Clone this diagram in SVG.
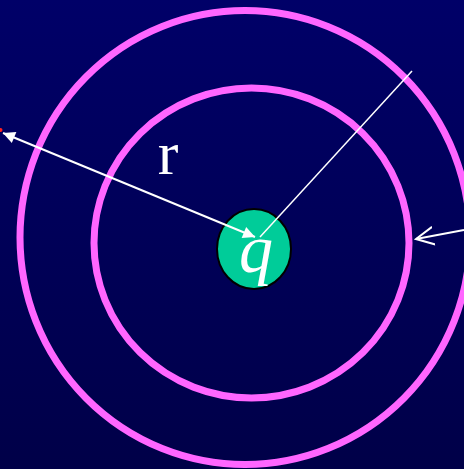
<svg xmlns="http://www.w3.org/2000/svg" width="464" height="469" viewBox="0 0 464 469">
<defs>
<linearGradient id="bg" x1="0" y1="0" x2="0" y2="1">
<stop offset="0" stop-color="#000068"/>
<stop offset="1" stop-color="#000048"/>
</linearGradient>
<marker id="solid" viewBox="0 0 10 10" refX="10" refY="5" markerWidth="16" markerHeight="12" markerUnits="userSpaceOnUse" orient="auto-start-reverse">
<path d="M0,0 L10,5 L0,10 Z" fill="#fff"/>
</marker>
<marker id="open" viewBox="0 0 10 10" refX="9" refY="5" markerWidth="20" markerHeight="20" markerUnits="userSpaceOnUse" orient="auto">
<path d="M0,0.5 L9,5 L0,9.5" fill="none" stroke="#fff" stroke-width="1"/>
</marker>
</defs>
<style>
.ring{fill:none;stroke:#FF66FF;stroke-width:7}
.wire{stroke:#fff;stroke-width:2;fill:none}
.lbl{font-family:"Liberation Serif","Times New Roman",serif;fill:#fff}
</style>
<rect width="464" height="469" fill="url(#bg)"/>
<g id="outer-sphere"><ellipse class="ring" cx="245" cy="237.5" rx="225" ry="227"/></g>
<g id="inner-sphere"><ellipse class="ring" cx="251.5" cy="243" rx="157.5" ry="155"/></g>
<g id="charge">
<ellipse cx="254" cy="249" rx="37" ry="40" fill="#00CC99" stroke="#000" stroke-width="2"/>
</g>
<g id="connectors">
<line class="wire" x1="255" y1="237" x2="3" y2="133" marker-start="url(#solid)" marker-end="url(#solid)"/>
<line x1="260" y1="237" x2="412" y2="71" stroke="#fff" stroke-width="1.5"/>
<line class="wire" x1="464" y1="230" x2="416" y2="239" marker-end="url(#open)"/>
</g>
<circle cx="0.5" cy="130" r="2" fill="#ff2020"/>
<text class="lbl" x="256" y="272" font-size="68" font-style="italic" text-anchor="middle">q</text>
<text class="lbl" x="168" y="174" font-size="62" text-anchor="middle">r</text>
</svg>
